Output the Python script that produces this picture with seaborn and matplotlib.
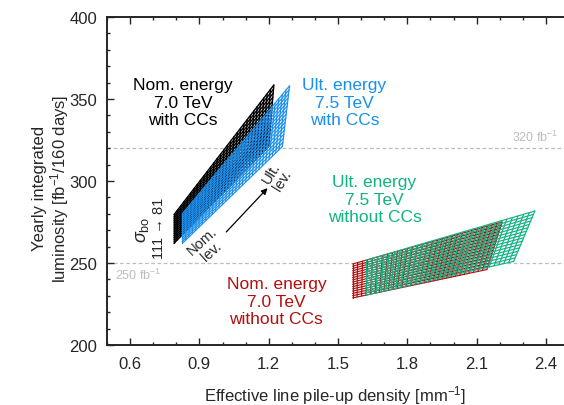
import numpy as np
import pandas as pd
import matplotlib
matplotlib.use("Agg")
import matplotlib.pyplot as plt
from matplotlib.ticker import MultipleLocator
import seaborn as sns

# ---- data -----------------------------------------------------------------
sigma_bo = [111, 109, 107, 105, 103, 101, 99, 97, 95, 93, 91, 89, 87, 85, 83, 81]  # mesh rows
leveling = [i / 30 for i in range(31)]  # nominal (0) -> ultimate (1) leveling, mesh columns

cases = ["Nom. energy 7.0 TeV with CCs", "Ult. energy 7.5 TeV with CCs",
         "Ult. energy 7.5 TeV without CCs", "Nom. energy 7.0 TeV without CCs"]
# corner values of each scan: (nominal lev., sigma 111), (nominal lev., sigma 81),
#                             (ultimate lev., sigma 111), (ultimate lev., sigma 81)
pileup_nom_111 = [0.790, 0.826, 1.623, 1.563]
pileup_nom_81  = [0.790, 0.826, 1.623, 1.563]
pileup_ult_111 = [1.200, 1.259, 2.260, 2.144]
pileup_ult_81  = [1.222, 1.290, 2.352, 2.210]
lumi_nom_111 = [262.0, 262.0, 230.5, 228.7]
lumi_nom_81  = [279.5, 280.0, 251.8, 249.4]
lumi_ult_111 = [321.0, 321.0, 251.0, 246.0]
lumi_ult_81  = [358.5, 358.0, 281.7, 275.0]

ref_lumi = [320, 250]
ref_text = ["320 fb$^{-1}$", "250 fb$^{-1}$"]

colors = ["#000000", "#1a8ff0", "#12b283", "#b30f0f"]
line_widths = [1.0, 0.85, 0.85, 0.85]
draw_order = [0, 1, 3, 2]

# ---- style ----------------------------------------------------------------
sns.set_style("ticks")
plt.rcParams["font.family"] = ["Liberation Sans", "DejaVu Sans"]
plt.rcParams["mathtext.fontset"] = "custom"
plt.rcParams["mathtext.rm"] = "Liberation Sans"
plt.rcParams["mathtext.it"] = "Liberation Sans:italic"

fig = plt.figure(figsize=(5.64, 4.06), dpi=100)
ax = fig.add_axes([107 / 564, 1 - 346 / 406, 1 - 107 / 564, (346 - 18) / 406])


def point(i, l, v):
    x = ((1 - l) * ((1 - v) * pileup_nom_111[i] + v * pileup_nom_81[i])
         + l * ((1 - v) * pileup_ult_111[i] + v * pileup_ult_81[i]))
    y = ((1 - l) * ((1 - v) * lumi_nom_111[i] + v * lumi_nom_81[i])
         + l * ((1 - v) * lumi_ult_111[i] + v * lumi_ult_81[i]))
    return x, y


def mesh_frame(i):
    rows = []
    s0, s1 = sigma_bo[0], sigma_bo[-1]
    for s in sigma_bo:
        v = (s0 - s) / (s0 - s1)
        for l in leveling:
            x, y = point(i, l, v)
            rows.append(dict(x=x, y=y, line=f"s{s}"))
    for k, l in enumerate(leveling):
        for s in sigma_bo:
            v = (s0 - s) / (s0 - s1)
            x, y = point(i, l, v)
            rows.append(dict(x=x, y=y, line=f"l{k}"))
    return pd.DataFrame(rows)


for i in draw_order:
    df = mesh_frame(i)
    sns.lineplot(data=df, x="x", y="y", units="line", estimator=None, sort=False,
                 color=colors[i], lw=line_widths[i], ax=ax, legend=False)

# reference lines
for yv in ref_lumi:
    ax.axhline(yv, color="#bdbdbd", lw=0.9, ls=(0, (3, 2)), zorder=0)
ax.text(2.455, 322.5, ref_text[0], color="#bdbdbd", fontsize=9, ha="right", va="bottom")
ax.text(0.535, 247.5, ref_text[1], color="#bdbdbd", fontsize=9, ha="left", va="top")

# labels
kw = dict(fontsize=12.5, ha="center", va="center", linespacing=1.2)
ax.text(0.83, 348, "Nom. energy\n7.0 TeV\nwith CCs", color=colors[0], **kw)
ax.text(1.528, 348, "Ult. energy\n7.5 TeV\nwith CCs", color=colors[1], **kw)
ax.text(1.658, 289, "Ult. energy\n7.5 TeV\nwithout CCs", color=colors[2], **kw)
ax.text(1.233, 226.8, "Nom. energy\n7.0 TeV\nwithout CCs", color=colors[3], **kw)

ax.text(0.652, 271, r"$\sigma_{\rm bo}$", fontsize=13, rotation=90, ha="center", va="center")
ax.text(0.727, 272, "111 → 81", fontsize=10.5, rotation=90, ha="center", va="center")
ax.text(0.93, 260.5, "Nom.\nlev.", fontsize=10.5, rotation=42, ha="center", va="center",
        linespacing=1.0)
ax.text(1.235, 303, "Ult.\nlev.", fontsize=10.5, rotation=58, ha="center", va="center",
        linespacing=1.0)
ax.annotate("", xy=(1.203, 296.9), xytext=(1.008, 267.7),
            arrowprops=dict(arrowstyle="-|>", color="black", lw=0.9, mutation_scale=9))

# axes
ax.set_xlim(0.5, 2.478)
ax.set_ylim(200, 400)
ax.xaxis.set_minor_locator(MultipleLocator(0.1))
ax.yaxis.set_major_locator(MultipleLocator(50))
ax.yaxis.set_minor_locator(MultipleLocator(10))
ax.set_xticks([0.6, 0.9, 1.2, 1.5, 1.8, 2.1, 2.4])
ax.set_xticklabels(["0.6", "0.9", "1.2", "1.5", "1.8", "2.1", "2.4"])
ax.tick_params(axis="both", which="both", direction="in", top=True, right=False,
               labelsize=12, width=1.0)
ax.tick_params(axis="both", which="major", length=5)
ax.tick_params(axis="both", which="minor", length=2.5)
ax.tick_params(axis="x", pad=8)
ax.tick_params(axis="y", pad=7)
for side in ["left", "bottom", "top"]:
    ax.spines[side].set_linewidth(1.4)
ax.spines["right"].set_visible(False)

ax.set_xlabel("Effective line pile-up density [mm$^{-1}$]", fontsize=12)
ax.set_ylabel("Yearly integrated\nluminosity [fb$^{-1}$/160 days]", fontsize=12,
              linespacing=1.1)
ax.xaxis.set_label_coords(0.5, -0.115)
ax.yaxis.set_label_coords(-0.078, 0.48)

fig.savefig("out.png", dpi=100)
